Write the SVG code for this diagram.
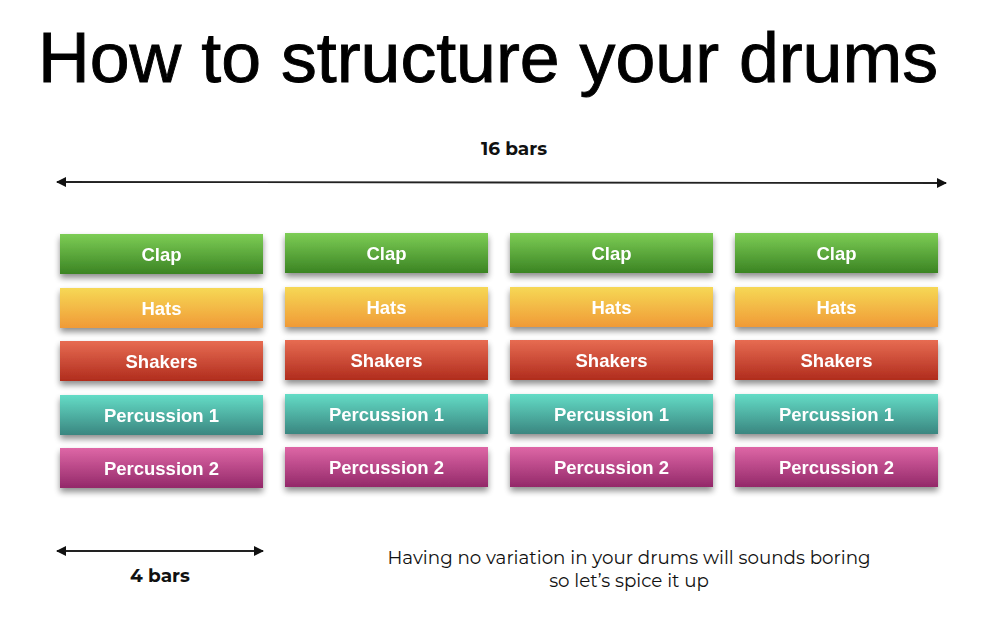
<svg xmlns="http://www.w3.org/2000/svg" width="1005" height="623" viewBox="0 0 1005 623">
<defs>
<linearGradient id="gClap" x1="0" y1="0" x2="0" y2="1"><stop offset="0" stop-color="#7dcd55"/><stop offset="1" stop-color="#3b8423"/></linearGradient>
<linearGradient id="gHats" x1="0" y1="0" x2="0" y2="1"><stop offset="0" stop-color="#f6d855"/><stop offset="1" stop-color="#f09a37"/></linearGradient>
<linearGradient id="gShak" x1="0" y1="0" x2="0" y2="1"><stop offset="0" stop-color="#e76c52"/><stop offset="1" stop-color="#b02c1d"/></linearGradient>
<linearGradient id="gP1" x1="0" y1="0" x2="0" y2="1"><stop offset="0" stop-color="#64dcc6"/><stop offset="1" stop-color="#3a8680"/></linearGradient>
<linearGradient id="gP2" x1="0" y1="0" x2="0" y2="1"><stop offset="0" stop-color="#de67a6"/><stop offset="1" stop-color="#932869"/></linearGradient>
<filter id="sh" x="-10%" y="-30%" width="120%" height="180%"><feGaussianBlur in="SourceAlpha" stdDeviation="3"/><feOffset dx="0" dy="4"/><feComponentTransfer><feFuncA type="linear" slope="0.45"/></feComponentTransfer><feMerge><feMergeNode/><feMergeNode in="SourceGraphic"/></feMerge></filter>
<marker id="ah" viewBox="0 0 10 10" refX="9" refY="5" markerWidth="10" markerHeight="10" markerUnits="userSpaceOnUse" orient="auto-start-reverse"><path d="M0,0 L10,5 L0,10 z" fill="#111"/></marker>
</defs>
<style>
.t{font-family:"Liberation Sans",Arial,sans-serif;font-weight:bold;fill:#fff;font-size:18.5px;text-anchor:middle}
.title{font-family:"Liberation Sans",Arial,sans-serif;font-size:70px;fill:#000;stroke:#000;stroke-width:0.9}
.lbl{font-family:"Montserrat","Noto Sans","Liberation Sans",sans-serif;font-weight:bold;font-size:18.5px;fill:#111;text-anchor:middle}
.note{font-family:"Montserrat","Noto Sans","Liberation Sans",sans-serif;font-size:18.3px;fill:#111;text-anchor:middle}
.ln{stroke:#222;stroke-width:1.8;fill:none;marker-start:url(#ah);marker-end:url(#ah)}
</style>
<rect width="1005" height="623" fill="#fff"/>
<text class="title" x="38" y="82" textLength="900" lengthAdjust="spacingAndGlyphs">How to structure your drums</text>
<text class="lbl" x="514" y="155">16 bars</text>
<text class="lbl" x="160" y="582">4 bars</text>
<text class="note" x="629" y="564">Having no variation in your drums will sounds boring</text>
<text class="note" x="629" y="587">so let’s spice it up</text>
<g id="connectors">
<line class="ln" x1="57" y1="182" x2="946" y2="183"/>
<line class="ln" x1="57" y1="551" x2="263" y2="551"/>
</g>
<g id="col1" filter="url(#sh)">
<g id="c1-clap"><rect x="60" y="234" width="203" height="40" fill="url(#gClap)"/><text class="t" x="161.5" y="261">Clap</text></g>
<g id="c1-hats"><rect x="60" y="288" width="203" height="40" fill="url(#gHats)"/><text class="t" x="161.5" y="315">Hats</text></g>
<g id="c1-shakers"><rect x="60" y="341" width="203" height="40" fill="url(#gShak)"/><text class="t" x="161.5" y="368">Shakers</text></g>
<g id="c1-perc1"><rect x="60" y="395" width="203" height="40" fill="url(#gP1)"/><text class="t" x="161.5" y="422">Percussion 1</text></g>
<g id="c1-perc2"><rect x="60" y="448" width="203" height="40" fill="url(#gP2)"/><text class="t" x="161.5" y="475">Percussion 2</text></g>
</g>
<g id="col2" filter="url(#sh)">
<g id="c2-clap"><rect x="285" y="233" width="203" height="40" fill="url(#gClap)"/><text class="t" x="386.5" y="260">Clap</text></g>
<g id="c2-hats"><rect x="285" y="287" width="203" height="40" fill="url(#gHats)"/><text class="t" x="386.5" y="314">Hats</text></g>
<g id="c2-shakers"><rect x="285" y="340" width="203" height="40" fill="url(#gShak)"/><text class="t" x="386.5" y="367">Shakers</text></g>
<g id="c2-perc1"><rect x="285" y="394" width="203" height="40" fill="url(#gP1)"/><text class="t" x="386.5" y="421">Percussion 1</text></g>
<g id="c2-perc2"><rect x="285" y="447" width="203" height="40" fill="url(#gP2)"/><text class="t" x="386.5" y="474">Percussion 2</text></g>
</g>
<g id="col3" filter="url(#sh)">
<g id="c3-clap"><rect x="510" y="233" width="203" height="40" fill="url(#gClap)"/><text class="t" x="611.5" y="260">Clap</text></g>
<g id="c3-hats"><rect x="510" y="287" width="203" height="40" fill="url(#gHats)"/><text class="t" x="611.5" y="314">Hats</text></g>
<g id="c3-shakers"><rect x="510" y="340" width="203" height="40" fill="url(#gShak)"/><text class="t" x="611.5" y="367">Shakers</text></g>
<g id="c3-perc1"><rect x="510" y="394" width="203" height="40" fill="url(#gP1)"/><text class="t" x="611.5" y="421">Percussion 1</text></g>
<g id="c3-perc2"><rect x="510" y="447" width="203" height="40" fill="url(#gP2)"/><text class="t" x="611.5" y="474">Percussion 2</text></g>
</g>
<g id="col4" filter="url(#sh)">
<g id="c4-clap"><rect x="735" y="233" width="203" height="40" fill="url(#gClap)"/><text class="t" x="836.5" y="260">Clap</text></g>
<g id="c4-hats"><rect x="735" y="287" width="203" height="40" fill="url(#gHats)"/><text class="t" x="836.5" y="314">Hats</text></g>
<g id="c4-shakers"><rect x="735" y="340" width="203" height="40" fill="url(#gShak)"/><text class="t" x="836.5" y="367">Shakers</text></g>
<g id="c4-perc1"><rect x="735" y="394" width="203" height="40" fill="url(#gP1)"/><text class="t" x="836.5" y="421">Percussion 1</text></g>
<g id="c4-perc2"><rect x="735" y="447" width="203" height="40" fill="url(#gP2)"/><text class="t" x="836.5" y="474">Percussion 2</text></g>
</g>
</svg>
